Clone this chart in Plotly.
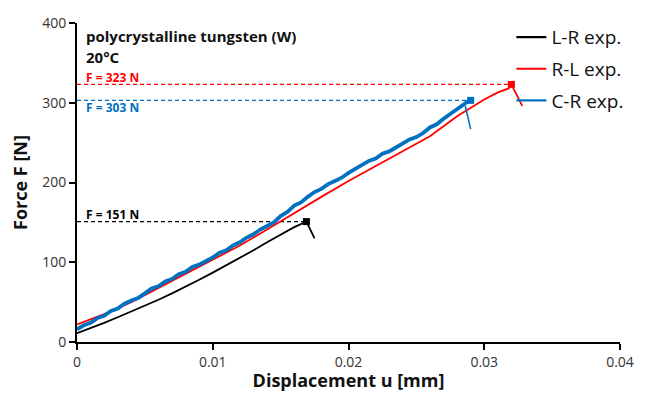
import plotly.graph_objects as go

# ---- data ----
lr_u = [0.0, 0.001, 0.002, 0.003, 0.004, 0.005, 0.006, 0.007, 0.008, 0.009, 0.010,
        0.011, 0.012, 0.013, 0.014, 0.015, 0.016, 0.0169]
lr_F = [11, 17, 24, 31, 38, 45, 53, 61, 69, 78, 87, 96, 105, 115, 125, 134, 144, 151]
lr_peak_u, lr_peak_F = 0.0169, 151
lr_drop_u, lr_drop_F = 0.0175, 130

rl_u = [0.0, 0.002, 0.004, 0.006, 0.008, 0.010, 0.012, 0.014, 0.016, 0.018, 0.020,
        0.022, 0.024, 0.026, 0.028, 0.030, 0.031, 0.0315, 0.0318, 0.0320]
rl_F = [22, 35, 50, 68, 86, 103, 121, 141, 162, 182, 202, 221, 239, 258, 283, 304,
        313, 316, 318, 323]
rl_peak_u, rl_peak_F = 0.0320, 323
rl_drop_u, rl_drop_F = 0.0328, 296

cr_u = [0.0, 0.0005, 0.001, 0.0015, 0.002, 0.0025, 0.003, 0.0035, 0.004, 0.0045, 0.005,
        0.0055, 0.006, 0.0065, 0.007, 0.0075, 0.008, 0.0085, 0.009, 0.0095, 0.010,
        0.0105, 0.011, 0.0115, 0.012, 0.0125, 0.013, 0.0135, 0.014, 0.0145, 0.015,
        0.0155, 0.016, 0.0165, 0.017, 0.0175, 0.018, 0.0185, 0.019, 0.0195, 0.020,
        0.0205, 0.021, 0.0215, 0.022, 0.0225, 0.023, 0.0235, 0.024, 0.0245, 0.025,
        0.0255, 0.026, 0.0265, 0.027, 0.0275, 0.028, 0.0285, 0.029]
cr_F = [16, 21, 24, 30, 33, 39, 42, 48, 52, 55, 61, 67, 70, 76, 79, 85, 88, 94, 97,
        101, 106, 112, 115, 121, 125, 131, 135, 141, 146, 150, 158, 163, 171, 175, 182,
        188, 192, 198, 202, 206, 212, 217, 221, 227, 230, 236, 239, 244, 248, 254, 257,
        262, 269, 273, 280, 286, 292, 299, 304]
cr_peak_u, cr_peak_F = 0.0290, 303
cr_drop_u = [0.0286, 0.0290]
cr_drop_F = [296, 267]

series_names = ["L-R exp.", "R-L exp.", "C-R exp."]

x_ticks = [0, 0.01, 0.02, 0.03, 0.04]
x_ticktext = ["0", "0.01", "0.02", "0.03", "0.04"]
y_ticks = [0, 100, 200, 300, 400]

RED = "#FF0000"
BLUE = "#0070C0"
BLACK = "#000000"
FONT = "Open Sans, Liberation Sans, sans-serif"

fig = go.Figure()

# dashed reference lines
for pu, pF, col in [(rl_peak_u, rl_peak_F, RED), (cr_peak_u, cr_peak_F, BLUE),
                    (lr_peak_u, lr_peak_F, BLACK)]:
    fig.add_trace(go.Scatter(x=[0, pu], y=[pF, pF], mode="lines",
                             line=dict(color=col, width=1.2, dash="4px,3px"),
                             showlegend=False, hoverinfo="skip"))

# curves
fig.add_trace(go.Scatter(x=lr_u + [lr_drop_u], y=lr_F + [lr_drop_F], mode="lines",
                         line=dict(color=BLACK, width=1.8), showlegend=False))
fig.add_trace(go.Scatter(x=rl_u + [rl_drop_u], y=rl_F + [rl_drop_F], mode="lines",
                         line=dict(color=RED, width=1.8), showlegend=False))
fig.add_trace(go.Scatter(x=cr_u, y=cr_F, mode="lines",
                         line=dict(color=BLUE, width=3.8), showlegend=False))
fig.add_trace(go.Scatter(x=cr_drop_u, y=cr_drop_F, mode="lines",
                         line=dict(color=BLUE, width=1.6), showlegend=False))

# peak markers
for pu, pF, col in [(lr_peak_u, lr_peak_F, BLACK), (rl_peak_u, rl_peak_F, RED),
                    (cr_peak_u, cr_peak_F, BLUE)]:
    fig.add_trace(go.Scatter(x=[pu], y=[pF], mode="markers",
                             marker=dict(symbol="square", size=7, color=col),
                             showlegend=False, hoverinfo="skip"))

# legend entries
for nm, col, grp in zip(series_names, [BLACK, RED, BLUE], ["a", "b", "c"]):
    fig.add_trace(go.Scatter(x=[None], y=[None], mode="lines", name=nm,
                             line=dict(color=col, width=2.2), legendgroup=grp))

annotations = [
    dict(x=0.0005, y=384, text="<b>polycrystalline tungsten (W)</b>", showarrow=False,
         xanchor="left", yanchor="middle", font=dict(size=15, color="#111")),
    dict(x=0.0005, y=357, text="<b>20°C</b>", showarrow=False,
         xanchor="left", yanchor="middle", font=dict(size=15, color="#111")),
    dict(x=0.0005, y=rl_peak_F, text="<b>F = 323 N</b>", showarrow=False,
         xanchor="left", yanchor="bottom", yshift=-4, font=dict(size=12, color=RED)),
    dict(x=0.0005, y=cr_peak_F, text="<b>F = 303 N</b>", showarrow=False,
         xanchor="left", yanchor="top", yshift=3, font=dict(size=12, color=BLUE)),
    dict(x=0.0005, y=lr_peak_F, text="<b>F = 151 N</b>", showarrow=False,
         xanchor="left", yanchor="bottom", yshift=-3, font=dict(size=12, color=BLACK)),
]

# the page body adds an 8px margin, so the figure is sized to fit inside the window
fig.update_layout(
    width=638, height=384,
    margin=dict(l=69, r=26, t=10, b=50),
    paper_bgcolor="white", plot_bgcolor="white",
    font=dict(family=FONT, color="#333"),
    annotations=annotations,
    showlegend=True,
    legend=dict(x=0.80, y=1.015, xanchor="left", yanchor="top",
                font=dict(size=19, color="#111"), tracegroupgap=4,
                bgcolor="rgba(0,0,0,0)", itemwidth=30),
    xaxis=dict(range=[0, 0.04], tickvals=x_ticks, ticktext=x_ticktext,
               showline=True, linecolor="black", linewidth=2, ticks="outside",
               ticklen=6, tickwidth=2, tickcolor="black", showgrid=False,
               zeroline=False, tickfont=dict(size=14, color="#333"), automargin=False,
               title=dict(text="<b>Displacement u [mm]</b>",
                          font=dict(size=18, color="#111"), standoff=21)),
    yaxis=dict(range=[0, 400], tickvals=y_ticks,
               showline=True, linecolor="black", linewidth=2, ticks="outside",
               ticklen=6, tickwidth=2, tickcolor="black", showgrid=False,
               zeroline=False, tickfont=dict(size=14, color="#333"), automargin=False,
               title=dict(text="<b>Force F [N]</b>",
                          font=dict(size=18, color="#111"), standoff=10)),
)

fig.write_html("out.html")
